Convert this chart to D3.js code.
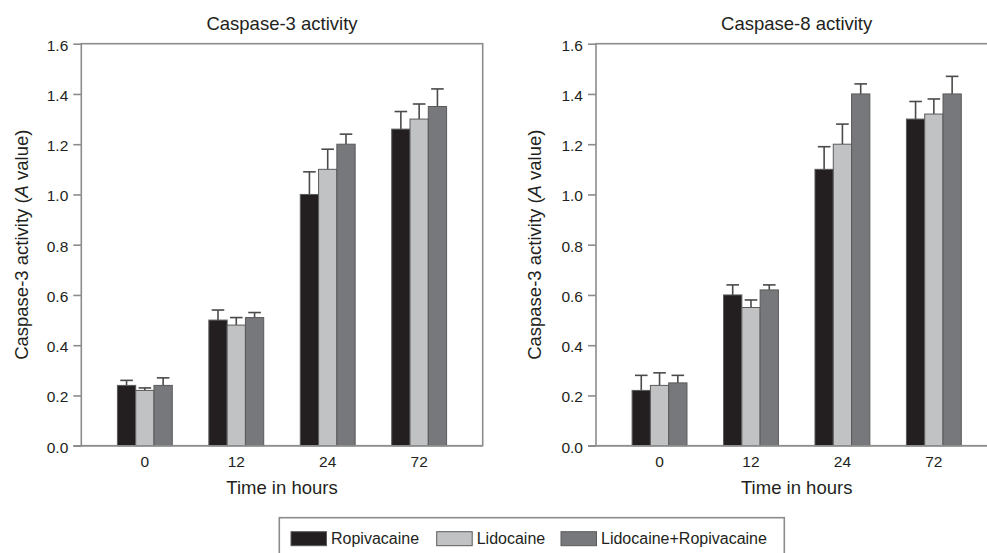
<!DOCTYPE html>
<html><head><meta charset="utf-8">
<script src="https://cdn.jsdelivr.net/npm/d3@7/dist/d3.min.js"></script>
<style>body{margin:0;background:#fff}svg{display:block;font-family:"Liberation Sans",Arial,sans-serif}</style>
</head><body><svg id="c" width="987" height="553"></svg>
<script>
const categories = ["0","12","24","72"];
const seriesNames = ["Ropivacaine","Lidocaine","Lidocaine+Ropivacaine"];
const seriesColors = ["#231f20","#c1c2c4","#77787b"];
const yTicks = [0.0,0.2,0.4,0.6,0.8,1.0,1.2,1.4,1.6];
// Caspase-3
const c3Ropi = [0.24,0.50,1.00,1.26];
const c3Lido = [0.22,0.48,1.10,1.30];
const c3Comb = [0.24,0.51,1.20,1.35];
const c3RopiErr = [0.02,0.04,0.09,0.07];
const c3LidoErr = [0.01,0.03,0.08,0.06];
const c3CombErr = [0.03,0.02,0.04,0.07];
// Caspase-8
const c8Ropi = [0.22,0.60,1.10,1.30];
const c8Lido = [0.24,0.55,1.20,1.32];
const c8Comb = [0.25,0.62,1.40,1.40];
const c8RopiErr = [0.06,0.04,0.09,0.07];
const c8LidoErr = [0.05,0.03,0.08,0.06];
const c8CombErr = [0.03,0.02,0.04,0.07];

const panels = [
  {title:"Caspase-3 activity", x0:81.3, values:[c3Ropi,c3Lido,c3Comb], errs:[c3RopiErr,c3LidoErr,c3CombErr], ytx:22},
  {title:"Caspase-8 activity", x0:596, values:[c8Ropi,c8Lido,c8Comb], errs:[c8RopiErr,c8LidoErr,c8CombErr], ytx:535}
];
const svg = d3.select("#c");
const W = 401.4, plotTop = 43.7, plotBottom = 445.7;
const y = d3.scaleLinear().domain([0,1.6]).range([plotBottom, plotTop]);
const axisCol = "#8c8c8c";
const textCol = "#231f20";

panels.forEach(p => {
  const g = svg.append("g");
  const x = d3.scaleBand().domain(categories).range([p.x0, p.x0+W]).paddingInner(0.4).paddingOuter(0.395);
  const xs = d3.scaleBand().domain(seriesNames).range([0, x.bandwidth()]);
  g.append("rect").attr("x",p.x0).attr("y",plotTop).attr("width",W).attr("height",plotBottom-plotTop)
    .attr("fill","none").attr("stroke",axisCol).attr("stroke-width",1.6);
  const ya = g.append("g").attr("transform",`translate(${p.x0},0)`)
    .call(d3.axisLeft(y).tickValues(yTicks).tickFormat(d3.format(".1f")).tickSize(8).tickPadding(5));
  ya.select(".domain").remove();
  ya.selectAll("line").attr("stroke",axisCol).attr("stroke-width",1.6);
  ya.selectAll("text").attr("font-size",15.5).attr("dy","0.42em").attr("fill",textCol).attr("font-family","Liberation Sans, Arial, sans-serif");
  const xa = g.append("g").attr("transform",`translate(0,${plotBottom})`)
    .call(d3.axisBottom(x).tickSize(0).tickPadding(10));
  xa.select(".domain").remove();
  xa.selectAll("text").attr("font-size",15.5).attr("fill",textCol).attr("font-family","Liberation Sans, Arial, sans-serif");
  seriesNames.forEach((s,i) => {
    const vals = p.values[i], errs = p.errs[i];
    const bw = xs.bandwidth();
    categories.forEach((c,j) => {
      const cx = x(c)+xs(s)+bw/2;
      g.append("line").attr("x1",cx).attr("x2",cx).attr("y1",y(vals[j])).attr("y2",y(vals[j]+errs[j]))
        .attr("stroke","#4a4a4a").attr("stroke-width",1.6);
      g.append("line").attr("x1",cx-6.3).attr("x2",cx+6.3).attr("y1",y(vals[j]+errs[j])).attr("y2",y(vals[j]+errs[j]))
        .attr("stroke","#4a4a4a").attr("stroke-width",1.6);
    });
    g.selectAll(null).data(vals).join("rect")
      .attr("x",(d,j)=>x(categories[j])+xs(s)).attr("width",bw)
      .attr("y",d=>y(d)).attr("height",d=>plotBottom-y(d))
      .attr("fill",seriesColors[i]).attr("stroke","#5a5a5a").attr("stroke-width",1);
  });
  g.append("line").attr("x1",p.x0-8).attr("x2",p.x0+W).attr("y1",plotBottom).attr("y2",plotBottom)
    .attr("stroke",axisCol).attr("stroke-width",1.6);
  g.append("text").attr("x",p.x0+W/2).attr("y",30).attr("text-anchor","middle")
    .attr("font-size",18.5).attr("fill",textCol).text(p.title);
  g.append("text").attr("x",p.x0+W/2).attr("y",494).attr("text-anchor","middle")
    .attr("font-size",18.5).attr("fill",textCol).text("Time in hours");
  const yt = g.append("text").attr("transform",`translate(${p.ytx+6},${(plotTop+plotBottom)/2}) rotate(-90)`)
    .attr("text-anchor","middle").attr("font-size",18.5).attr("fill",textCol);
  yt.append("tspan").text("Caspase-3 activity (");
  yt.append("tspan").attr("font-style","italic").text("A");
  yt.append("tspan").text(" value)");
});

const lg = svg.append("g");
lg.append("rect").attr("x",279.3).attr("y",517.7).attr("width",505).attr("height",50)
  .attr("fill","#fff").attr("stroke",axisCol).attr("stroke-width",1.6);
const legX = [291, 436.7, 561];
seriesNames.forEach((s,i) => {
  lg.append("rect").attr("x",legX[i]).attr("y",531.7).attr("width",35.5).attr("height",14)
    .attr("fill",seriesColors[i]).attr("stroke","#5a5a5a").attr("stroke-width",1);
  lg.append("text").attr("x",legX[i]+40).attr("y",543.5).attr("font-size",16).attr("fill",textCol).text(s);
});
</script></body></html>
